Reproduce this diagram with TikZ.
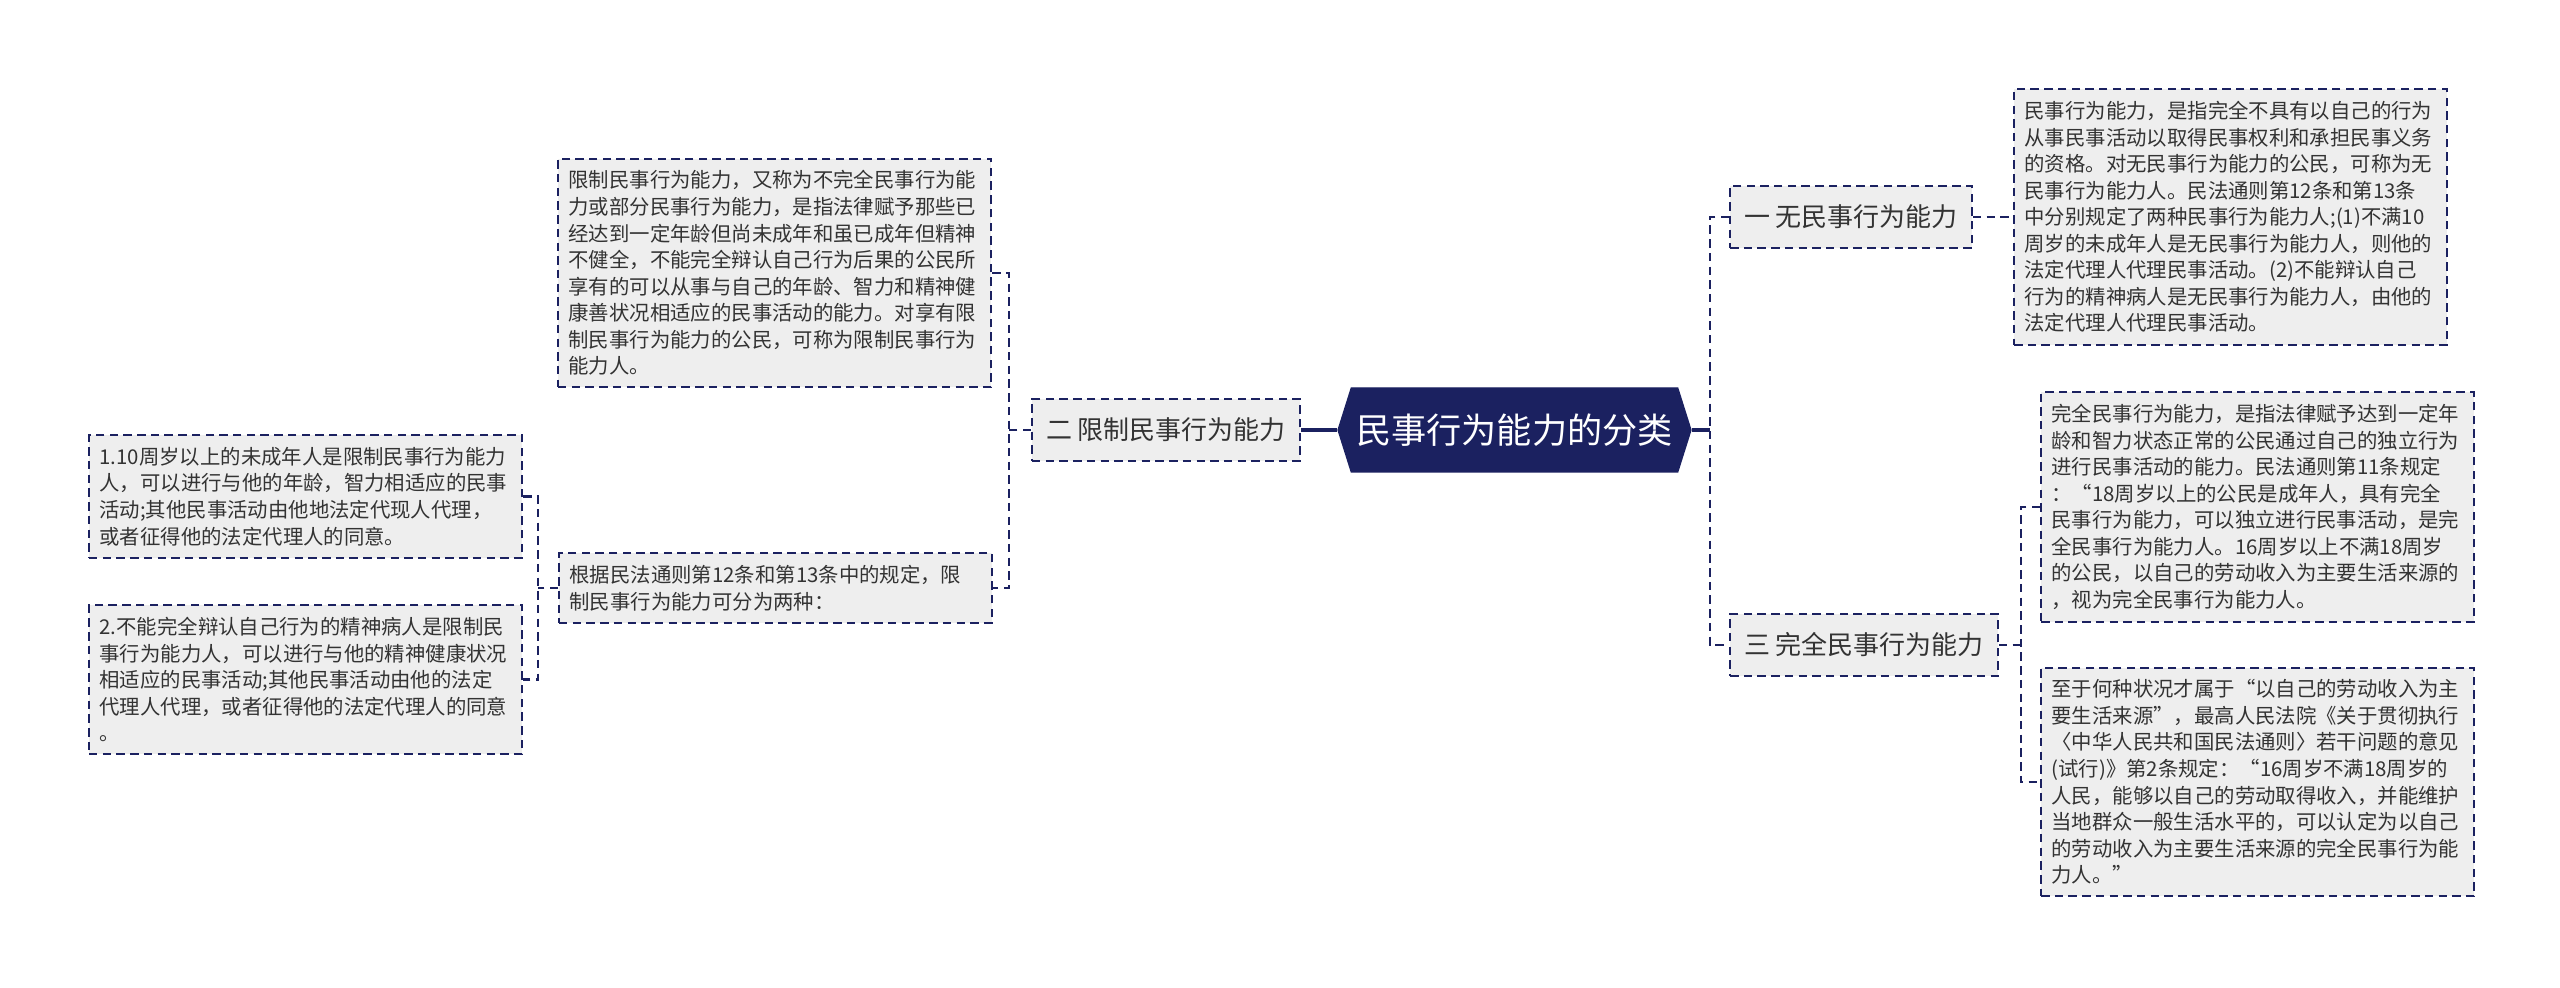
\documentclass[tikz,border=0pt]{standalone}
\usepackage{fontspec}
\setmainfont{Noto Sans CJK SC}
\usetikzlibrary{shapes.symbols}
\definecolor{cnavy}{HTML}{1B2160}
\definecolor{cfill}{HTML}{EEEEEE}
\definecolor{ctext}{HTML}{333333}
\tikzset{
  every picture/.style={line join=miter},
  dashline/.style={draw=cnavy, line width=0.6pt, dash pattern=on 2.4pt off 1.5pt},
  note/.style={dashline, fill=cfill, text=ctext, align=left,
    font=\fontsize{5.8pt}{7.55pt}\selectfont,
    text width=4.12cm, inner xsep=0.105cm, inner ysep=0.12cm},
  topic/.style={dashline, fill=cfill, text=ctext,
    font=\fontsize{7.4pt}{9pt}\selectfont,
    inner xsep=0.14cm, minimum height=0.62cm},
  hub/.style={signal, signal to=west and east, signal pointer angle=145,
    fill=cnavy, draw=cnavy, text=white, font=\fontsize{10pt}{12pt}\selectfont,
    inner xsep=0.05cm, minimum width=3.50cm, minimum height=0.84cm},
  link/.style={dashline},
  trunk/.style={cnavy, line width=1.1pt},
}

\begin{document}
\begin{tikzpicture}
  \useasboundingbox (0,0) rectangle (25.60,9.87);

  % centre and first level
  \node[hub] (root) at (15.145,5.57) {民事行为能力的分类};
  \node[topic, anchor=east] (n2) at (13.01,5.57) {二 限制民事行为能力};
  \node[topic, anchor=west] (n1) at (17.29,7.70) {一 无民事行为能力};
  \node[topic, anchor=west] (n3) at (17.29,3.42) {三 完全民事行为能力};

  % right side texts
  \node[note, anchor=west] (rtop) at (20.13,7.70) {民事行为能力，是指完全不具有以自己的行为\\从事民事活动以取得民事权利和承担民事义务\\的资格。对无民事行为能力的公民，可称为无\\民事行为能力人。民法通则第12条和第13条\\中分别规定了两种民事行为能力人;(1)不满10\\周岁的未成年人是无民事行为能力人，则他的\\法定代理人代理民事活动。(2)不能辩认自己\\行为的精神病人是无民事行为能力人，由他的\\法定代理人代理民事活动。};
  \node[note, anchor=west] (rmid) at (20.40,4.80) {完全民事行为能力，是指法律赋予达到一定年\\龄和智力状态正常的公民通过自己的独立行为\\进行民事活动的能力。民法通则第11条规定\\：“18周岁以上的公民是成年人，具有完全\\民事行为能力，可以独立进行民事活动，是完\\全民事行为能力人。16周岁以上不满18周岁\\的公民，以自己的劳动收入为主要生活来源的\\，视为完全民事行为能力人。};
  \node[note, anchor=west] (rbot) at (20.40,2.05) {至于何种状况才属于“以自己的劳动收入为主\\要生活来源”，最高人民法院《关于贯彻执行\\〈中华人民共和国民法通则〉若干问题的意见\\(试行)》第2条规定：“16周岁不满18周岁的\\人民，能够以自己的劳动取得收入，并能维护\\当地群众一般生活水平的，可以认定为以自己\\的劳动收入为主要生活来源的完全民事行为能\\力人。”};

  % left side texts
  \node[note, anchor=west] (ltop) at (5.57,7.14) {限制民事行为能力，又称为不完全民事行为能\\力或部分民事行为能力，是指法律赋予那些已\\经达到一定年龄但尚未成年和虽已成年但精神\\不健全，不能完全辩认自己行为后果的公民所\\享有的可以从事与自己的年龄、智力和精神健\\康善状况相适应的民事活动的能力。对享有限\\制民事行为能力的公民，可称为限制民事行为\\能力人。};
  \node[note, anchor=west] (lgen) at (5.58,3.99) {根据民法通则第12条和第13条中的规定，限\\制民事行为能力可分为两种：};
  \node[note, anchor=west] (b1) at (0.88,4.905) {1.10周岁以上的未成年人是限制民事行为能力\\人，可以进行与他的年龄，智力相适应的民事\\活动;其他民事活动由他地法定代现人代理，\\或者征得他的法定代理人的同意。};
  \node[note, anchor=west] (b2) at (0.88,3.075) {2.不能完全辩认自己行为的精神病人是限制民\\事行为能力人，可以进行与他的精神健康状况\\相适应的民事活动;其他民事活动由他的法定\\代理人代理，或者征得他的法定代理人的同意\\。};

  % spines
  \coordinate (sR) at (17.10,5.57);
  \coordinate (s2) at (10.09,5.57);
  \coordinate (s3) at (20.21,3.42);
  \coordinate (s4) at (5.38,3.99);

  \draw[trunk] (root.west) -- (n2.east);
  \draw[trunk] (root.east) -- (sR);
  \draw[link] (n1.west) -| (sR) |- (n3.west);
  \draw[link] (n1.east) -- (rtop.west);
  \draw[link] (n3.east) -- (s3);
  \draw[link] (rmid.west) -| (s3) |- (rbot.west);
  \draw[link] (n2.west) -- (s2);
  \draw[link] (ltop.east) -| (s2) |- (lgen.east);
  \draw[link] (lgen.west) -- (s4);
  \draw[link] (b1.east) -| (s4) |- (b2.east);
\end{tikzpicture}
\end{document}
